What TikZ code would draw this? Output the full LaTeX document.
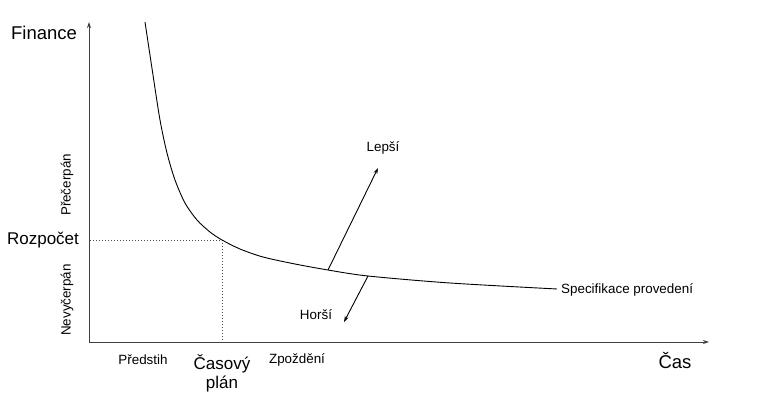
\documentclass[tikz,border=0pt]{standalone}
\usepackage{fontspec}
\setmainfont{Liberation Sans}
\usetikzlibrary{arrows.meta}
\begin{document}
\begin{tikzpicture}[x=1pt,y=-1pt,
  axis/.style={draw=black!75,line width=1pt,-{Stealth[length=6pt,width=4pt]}},
  curve/.style={draw=black,line width=0.9pt},
  guide/.style={draw=black!70,line width=0.7pt,dash pattern=on 1pt off 2pt},
  ptr/.style={draw=black,line width=0.9pt,-{Stealth[length=6pt,width=4pt]}},
  big/.style={font=\fontsize{18.5}{21}\selectfont,inner sep=0pt},
  mid/.style={font=\fontsize{17}{20}\selectfont,inner sep=0pt},
  small/.style={font=\fontsize{13.4}{16}\selectfont,inner sep=0pt}]
\useasboundingbox (0,0) rectangle (768,398);
% axes
\coordinate (o) at (89,342);
\coordinate (ytop) at (89,22);
\coordinate (xend) at (709,342);
\draw[axis] (o) -- (ytop);
\draw[axis] (o) -- (xend);
% budget and schedule guides
\coordinate (b0) at (90,240);
\coordinate (bp) at (222,240);
\coordinate (t0) at (222,341);
\draw[guide] (b0) -- (bp) -- (t0);
% performance curve
\coordinate (better0) at (328,270);
\coordinate (worse0) at (368,276);
\coordinate (cend) at (557,289);
\draw[curve] plot[smooth,tension=0.5] coordinates {(145,22) (153,75) (160,120) (167,153) (175,180) (185,203) (197,220) (210,232) (222,240) (240,249) (263,257) (295,264) (328,270) (368,276) (450,283) (557,289)};
% direction arrows
\coordinate (better1) at (378,168);
\coordinate (worse1) at (344,322);
\draw[ptr] (better0) -- (better1);
\draw[ptr] (worse0) -- (worse1);
% labels
\node[big] (fin) at (44,33) {Finance};
\node[mid] (roz) at (43,240) {Rozpočet};
\node[small,rotate=90] (pre) at (67,185) {Přečerpán};
\node[small,rotate=90] (nev) at (67,300) {Nevyčerpán};
\node[small] (pred) at (143,360) {Předstih};
\node[mid,align=center] (plan) at (222,373) {Časový\\[-1pt]plán};
\node[small] (zpo) at (297,360) {Zpoždění};
\node[big] (cas) at (675,361) {Čas};
\node[small] (lep) at (383,148) {Lepší};
\node[small] (hor) at (316,315) {Horší};
\node[small,anchor=west] (spec) at (561,290) {Specifikace provedení};
\end{tikzpicture}
\end{document}
